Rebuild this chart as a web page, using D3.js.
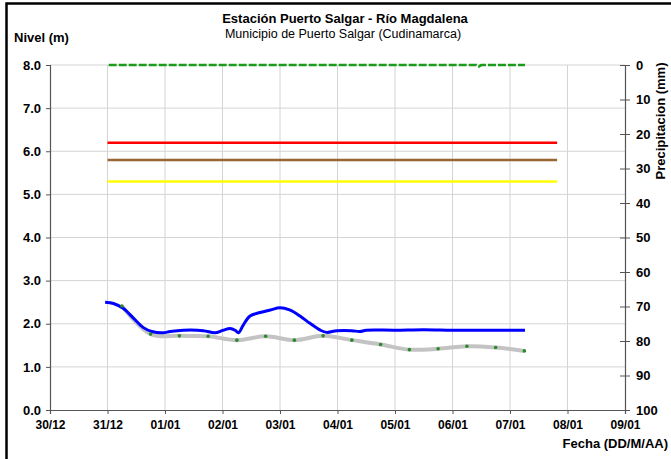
<!DOCTYPE html>
<html>
<head>
<meta charset="utf-8">
<script src="https://cdn.jsdelivr.net/npm/d3@7"></script>
<style>
  html, body { margin: 0; padding: 0; background: #fff; }
  svg { display: block; font-family: "Liberation Sans", Arial, sans-serif; }
  .tick-label { font-weight: bold; fill: #000; }
</style>
</head>
<body>
<svg id="chart" width="671" height="459"></svg>
<script>
(function() {
  'use strict';

  // nivel observado (m), registro continuo
  var levelTimes = [
    '30/12/2010 23:00', '31/12/2010 02:30', '31/12/2010 06:30', '31/12/2010 10:50',
    '31/12/2010 15:00', '31/12/2010 18:30', '31/12/2010 23:15', '01/01/2011 02:10',
    '01/01/2011 07:40', '01/01/2011 16:00', '01/01/2011 20:50', '02/01/2011 00:15',
    '02/01/2011 03:10', '02/01/2011 05:15', '02/01/2011 06:40', '02/01/2011 08:40',
    '02/01/2011 11:30', '02/01/2011 15:40', '02/01/2011 20:00', '03/01/2011 00:00',
    '03/01/2011 04:00', '03/01/2011 08:20', '03/01/2011 12:30', '03/01/2011 16:50',
    '03/01/2011 19:30', '03/01/2011 23:45', '04/01/2011 06:00', '04/01/2011 09:20',
    '04/01/2011 12:00', '05/01/2011 00:00', '05/01/2011 12:00', '06/01/2011 00:00',
    '06/01/2011 12:00', '07/01/2011 00:00', '07/01/2011 06:15'
  ];
  var levelValues = [
    2.50, 2.47, 2.36, 2.13,
    1.91, 1.82, 1.79, 1.82,
    1.85, 1.84, 1.79, 1.85,
    1.89, 1.85, 1.79, 1.97,
    2.18, 2.26, 2.32, 2.37,
    2.32, 2.18, 2.01, 1.85,
    1.80, 1.84, 1.84, 1.82,
    1.85, 1.85, 1.86, 1.85,
    1.85, 1.85, 1.85
  ];

  // nivel pronosticado (m), cada 12 horas
  var forecastTimes = [
    '31/12/2010 06:00', '31/12/2010 18:00', '01/01/2011 06:00', '01/01/2011 18:00',
    '02/01/2011 06:00', '02/01/2011 18:00', '03/01/2011 06:00', '03/01/2011 18:00',
    '04/01/2011 06:00', '04/01/2011 18:00', '05/01/2011 06:00', '05/01/2011 18:00',
    '06/01/2011 06:00', '06/01/2011 18:00', '07/01/2011 06:00'
  ];
  var forecastValues = [
    2.41, 1.76, 1.72, 1.71,
    1.62, 1.71, 1.62, 1.72,
    1.62, 1.52, 1.40, 1.42,
    1.48, 1.45, 1.37
  ];

  // precipitación (mm)
  var rainTimes = ['31/12/2010 00:30', '06/01/2011 10:00', '06/01/2011 11:00', '06/01/2011 12:00', '07/01/2011 06:15'];
  var rainValues = [0, 0, 0.4, 0, 0];

  // umbrales de alerta (m)
  var alertNames = ['roja', 'naranja', 'amarilla'];
  var alertLevels = [6.2, 5.8, 5.3];
  var alertColors = ['#ff0000', '#996633', '#ffff00'];
  var alertSpan = ['31/12/2010 00:00', '07/01/2011 19:40'];

  var xTickLabels = ['30/12', '31/12', '01/01', '02/01', '03/01', '04/01', '05/01', '06/01', '07/01', '08/01', '09/01'];
  var levelTicks = [0, 1, 2, 3, 4, 5, 6, 7, 8];
  var rainTicks = [0, 10, 20, 30, 40, 50, 60, 70, 80, 90, 100];

  var parse = d3.timeParse('%d/%m/%Y %H:%M');
  var svg = d3.select('#chart');

  var plot = { left: 50, right: 625, top: 65, bottom: 410 };

  var xScale = d3.scaleTime()
    .domain([parse('30/12/2010 00:00'), parse('09/01/2011 00:00')])
    .range([plot.left, plot.right]);
  var yScale = d3.scaleLinear().domain([0, 8]).range([plot.bottom, plot.top]);
  var rainScale = d3.scaleLinear().domain([0, 100]).range([plot.top, plot.bottom]);

  var dayTicks = xScale.ticks(d3.timeDay.every(1));

  // frame
  svg.append('path')
    .attr('d', 'M6.5,459 V3.5 H671')
    .attr('fill', 'none')
    .attr('stroke', '#000')
    .attr('stroke-width', 2.5);

  // grid
  svg.append('g')
    .selectAll('line.vgrid')
    .data(dayTicks.slice(1, -1))
    .enter()
    .append('line')
    .attr('class', 'vgrid')
    .attr('x1', function(d) { return xScale(d); })
    .attr('x2', function(d) { return xScale(d); })
    .attr('y1', plot.top)
    .attr('y2', plot.bottom)
    .attr('stroke', '#d4d4d4')
    .attr('stroke-width', 1);

  svg.append('g')
    .selectAll('line.hgrid')
    .data(levelTicks.slice(1))
    .enter()
    .append('line')
    .attr('class', 'hgrid')
    .attr('x1', plot.left)
    .attr('x2', plot.right)
    .attr('y1', function(d) { return yScale(d); })
    .attr('y2', function(d) { return yScale(d); })
    .attr('stroke', '#d4d4d4')
    .attr('stroke-width', 1);

  // axes
  var xAxis = d3.axisBottom(xScale)
    .tickValues(dayTicks)
    .tickSize(4)
    .tickFormat(function(d, i) { return xTickLabels[i]; });
  var gx = svg.append('g')
    .attr('transform', 'translate(0,' + plot.bottom + ')')
    .call(xAxis);
  gx.selectAll('text')
    .attr('class', 'tick-label')
    .attr('font-size', 12)
    .attr('dy', null)
    .attr('y', 19);

  var yAxis = d3.axisLeft(yScale)
    .tickValues(levelTicks)
    .tickSize(4)
    .tickFormat(d3.format('.1f'));
  var gy = svg.append('g')
    .attr('transform', 'translate(' + plot.left + ',0)')
    .call(yAxis);
  gy.selectAll('text')
    .attr('class', 'tick-label')
    .attr('font-size', 13)
    .attr('x', -9);

  var rAxis = d3.axisRight(rainScale)
    .tickValues(rainTicks)
    .tickSizeInner(5)
    .tickSizeOuter(0);
  var gr = svg.append('g')
    .attr('transform', 'translate(' + plot.right + ',0)')
    .call(rAxis);
  gr.selectAll('.tick line').attr('x1', -5);
  gr.selectAll('text')
    .attr('class', 'tick-label')
    .attr('font-size', 13)
    .attr('x', 11);

  svg.selectAll('.domain').attr('stroke', '#555').attr('stroke-width', 1.2);
  svg.selectAll('.tick line').attr('stroke', '#555');
  svg.selectAll('.tick text').attr('font-family', null).attr('fill', '#000');

  // alert thresholds
  svg.append('g')
    .selectAll('line.alert')
    .data(alertNames)
    .enter()
    .append('line')
    .attr('class', 'alert')
    .attr('x1', xScale(parse(alertSpan[0])))
    .attr('x2', xScale(parse(alertSpan[1])))
    .attr('y1', function(d, i) { return yScale(alertLevels[i]); })
    .attr('y2', function(d, i) { return yScale(alertLevels[i]); })
    .attr('stroke', function(d, i) { return alertColors[i]; })
    .attr('stroke-width', 2.5);

  // precipitation
  var rainData = rainTimes.map(function(t, i) { return { t: parse(t), v: rainValues[i] }; });
  svg.append('path')
    .datum(rainData)
    .attr('fill', 'none')
    .attr('stroke', '#1c9a1c')
    .attr('stroke-width', 2.6)
    .attr('stroke-dasharray', '8,2')
    .attr('d', d3.line()
      .x(function(d) { return xScale(d.t); })
      .y(function(d) { return rainScale(d.v); }));

  // forecast (gray) with markers
  var forecastData = forecastTimes.map(function(t, i) { return { t: parse(t), v: forecastValues[i] }; });
  svg.append('path')
    .datum(forecastData)
    .attr('fill', 'none')
    .attr('stroke', '#c3c3c3')
    .attr('stroke-width', 4)
    .attr('d', d3.line()
      .curve(d3.curveCatmullRom)
      .x(function(d) { return xScale(d.t); })
      .y(function(d) { return yScale(d.v); }));

  // observed level (blue)
  var levelData = levelTimes.map(function(t, i) { return { t: parse(t), v: levelValues[i] }; });
  svg.append('path')
    .datum(levelData)
    .attr('fill', 'none')
    .attr('stroke', '#0000ff')
    .attr('stroke-width', 3)
    .attr('stroke-linejoin', 'round')
    .attr('d', d3.line()
      .curve(d3.curveCatmullRom)
      .x(function(d) { return xScale(d.t); })
      .y(function(d) { return yScale(d.v); }));

  svg.append('g')
    .selectAll('circle.mark')
    .data(forecastData)
    .enter()
    .append('circle')
    .attr('class', 'mark')
    .attr('cx', function(d) { return xScale(d.t); })
    .attr('cy', function(d) { return yScale(d.v); })
    .attr('r', 1.8)
    .attr('fill', '#2a8a2a');

  // titles
  svg.append('text')
    .attr('x', 345)
    .attr('y', 23)
    .attr('text-anchor', 'middle')
    .attr('font-size', 13)
    .attr('font-weight', 'bold')
    .text('Estación Puerto Salgar - Río Magdalena');
  svg.append('text')
    .attr('x', 343)
    .attr('y', 38)
    .attr('text-anchor', 'middle')
    .attr('font-size', 12.5)
    .text('Municipio de Puerto Salgar (Cudinamarca)');
  svg.append('text')
    .attr('x', 14)
    .attr('y', 42)
    .attr('font-size', 13)
    .attr('font-weight', 'bold')
    .text('Nivel (m)');
  svg.append('text')
    .attr('transform', 'translate(665,121) rotate(-90)')
    .attr('text-anchor', 'middle')
    .attr('font-size', 13)
    .attr('font-weight', 'bold')
    .text('Precipitacion (mm)');
  svg.append('text')
    .attr('x', 668)
    .attr('y', 448)
    .attr('text-anchor', 'end')
    .attr('font-size', 13)
    .attr('font-weight', 'bold')
    .text('Fecha (DD/M/AA)');
})();
</script>
</body>
</html>
